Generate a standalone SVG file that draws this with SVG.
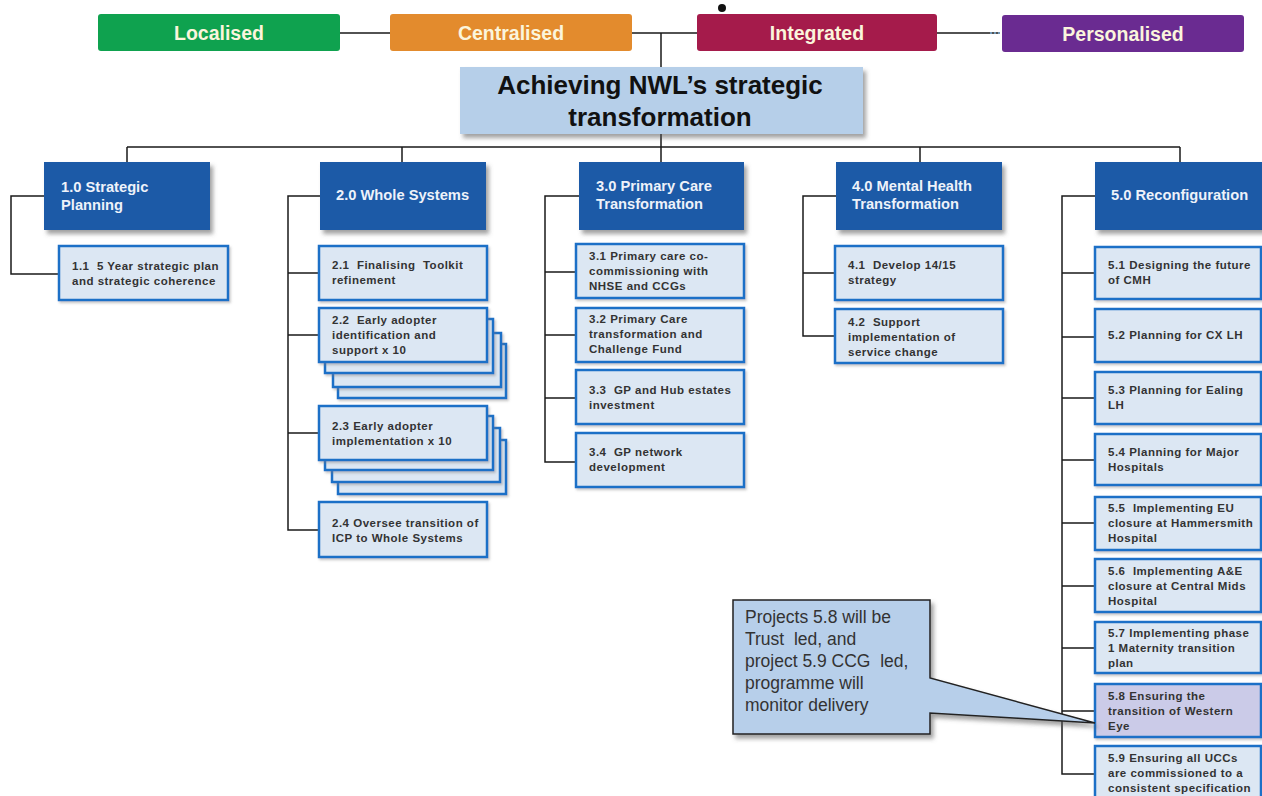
<svg xmlns="http://www.w3.org/2000/svg" width="1262" height="796" viewBox="0 0 1262 796">
  <defs>
    <filter id="shadow" x="-10%" y="-10%" width="125%" height="135%">
      <feDropShadow dx="3" dy="4" stdDeviation="2" flood-color="#555" flood-opacity="0.55"/>
    </filter>
    <filter id="soft" x="-10%" y="-10%" width="125%" height="135%">
      <feDropShadow dx="1.5" dy="2" stdDeviation="1.2" flood-color="#777" flood-opacity="0.4"/>
    </filter>
  </defs>
  <style>
    text { white-space: pre; }
    .theme { font-family: "Liberation Sans", Arial, sans-serif; font-weight: bold; font-size: 19.5px; fill: #fbf5dc; text-anchor: middle; }
    .title { font-family: "Liberation Sans", Arial, sans-serif; font-weight: bold; font-size: 26px; fill: #111; text-anchor: middle; }
    .lvl1 { fill: #1b5aa7; filter: url(#shadow); }
    .lvl1t { font-family: "Liberation Sans", Arial, sans-serif; font-weight: bold; font-size: 14.7px; fill: #eef2fa; }
    .task { fill: #dce7f3; stroke: #1d6fc7; stroke-width: 2.5; filter: url(#soft); }
    .task.alt { fill: #cbcbe8; }
    .taskt { font-family: "Liberation Sans", Arial, sans-serif; font-weight: bold; font-size: 11.5px; fill: #333; letter-spacing: 0.5px; }
    .link { stroke: #1a1a1a; stroke-width: 1.5; fill: none; }
    .callout { fill: #b7cfea; stroke: #222; stroke-width: 1.5; filter: url(#shadow); }
    .calloutt { font-family: "Liberation Sans", Arial, sans-serif; font-size: 17.5px; fill: #333; }
  </style>
  <rect width="1262" height="796" fill="#ffffff"/>

  <!-- connectors -->
  <g id="connectors">
    <!-- theme bar -->
    <path class="link" d="M340 33 H390 M632 33 H697 M937 33 H1000"/>
    <path d="M990 33 H1002" stroke="#7fb0d8" stroke-width="1.5" stroke-dasharray="2 2"/>
    <path class="link" d="M661 33 V67 M661 134 V147"/>
    <!-- level 1 bar -->
    <path class="link" d="M127 147 H1180 M127 147 V162 M402 147 V162 M661 147 V162 M920 147 V162 M1180 147 V162"/>
    <!-- 1.0 children -->
    <path class="link" d="M44 196 H11 V274 H59"/>
    <!-- 2.0 children -->
    <path class="link" d="M320 196 H288 V530 H319 M288 273 H319 M288 335 H319 M288 433 H319"/>
    <!-- 3.0 children -->
    <path class="link" d="M579 196 H545 V462 H576 M545 272 H576 M545 335 H576 M545 398 H576"/>
    <!-- 4.0 children -->
    <path class="link" d="M836 196 H803 V336 H835 M803 273 H835"/>
    <!-- 5.0 children -->
    <path class="link" d="M1095 196 H1062 V774 H1095 M1062 273 H1095 M1062 337 H1095 M1062 398 H1095 M1062 460 H1095 M1062 523 H1095 M1062 586 H1095 M1062 648 H1095 M1062 711 H1095"/>
  </g>

  <!-- themes -->
  <g id="theme-localised">
    <rect x="98" y="14" width="242" height="37" rx="3" fill="#0fa24f"/>
    <text class="theme" x="219" y="40">Localised</text>
  </g>
  <g id="theme-centralised">
    <rect x="390" y="14" width="242" height="37" rx="3" fill="#e38b2d"/>
    <text class="theme" x="511" y="40">Centralised</text>
  </g>
  <g id="theme-integrated">
    <rect x="697" y="14" width="240" height="37" rx="3" fill="#a51b4b"/>
    <text class="theme" x="817" y="40">Integrated</text>
    <circle cx="722" cy="8" r="4" fill="#111"/>
  </g>
  <g id="theme-personalised">
    <rect x="1002" y="15" width="242" height="37" rx="3" fill="#6a2b91"/>
    <text class="theme" x="1123" y="41">Personalised</text>
  </g>

  <!-- root -->
  <g id="root">
    <rect x="460" y="67" width="403" height="67" fill="#b6cfe9" filter="url(#shadow)"/>
    <text class="title" x="660" y="94">Achieving NWL’s strategic</text>
    <text class="title" x="660" y="126">transformation</text>
  </g>

  <!-- 1.0 -->
  <g id="n1-0">
    <rect class="lvl1" x="44" y="162" width="166" height="68"/>
    <text class="lvl1t" x="61" y="192">1.0 Strategic</text>
    <text class="lvl1t" x="61" y="210">Planning</text>
  </g>
  <g id="n1-1">
    <rect class="task" x="59" y="246" width="169" height="54"/>
    <text class="taskt" x="72" y="270">1.1  5 Year strategic plan</text>
    <text class="taskt" x="72" y="285">and strategic coherence</text>
  </g>

  <!-- 2.0 -->
  <g id="n2-0">
    <rect class="lvl1" x="320" y="162" width="166" height="68"/>
    <text class="lvl1t" x="336" y="200">2.0 Whole Systems</text>
  </g>
  <g id="n2-1">
    <rect class="task" x="319" y="246" width="168" height="54"/>
    <text class="taskt" x="332" y="269">2.1  Finalising  Toolkit</text>
    <text class="taskt" x="332" y="284">refinement</text>
  </g>
  <g id="n2-2">
    <rect class="task" x="338" y="344" width="168" height="54"/>
    <rect class="task" x="333" y="333" width="168" height="54"/>
    <rect class="task" x="325" y="319" width="168" height="54"/>
    <rect class="task" x="319" y="308" width="168" height="54"/>
    <text class="taskt" x="332" y="324">2.2  Early adopter</text>
    <text class="taskt" x="332" y="339">identification and</text>
    <text class="taskt" x="332" y="354">support x 10</text>
  </g>
  <g id="n2-3">
    <rect class="task" x="338" y="440" width="168" height="54"/>
    <rect class="task" x="332" y="428" width="168" height="54"/>
    <rect class="task" x="325" y="416" width="168" height="54"/>
    <rect class="task" x="319" y="406" width="168" height="54"/>
    <text class="taskt" x="332" y="430">2.3 Early adopter</text>
    <text class="taskt" x="332" y="445">implementation x 10</text>
  </g>
  <g id="n2-4">
    <rect class="task" x="319" y="502" width="168" height="55"/>
    <text class="taskt" x="332" y="527">2.4 Oversee transition of</text>
    <text class="taskt" x="332" y="542">ICP to Whole Systems</text>
  </g>

  <!-- 3.0 -->
  <g id="n3-0">
    <rect class="lvl1" x="579" y="162" width="165" height="68"/>
    <text class="lvl1t" x="596" y="191">3.0 Primary Care</text>
    <text class="lvl1t" x="596" y="209">Transformation</text>
  </g>
  <g id="n3-1">
    <rect class="task" x="576" y="244" width="168" height="54"/>
    <text class="taskt" x="589" y="260">3.1 Primary care co-</text>
    <text class="taskt" x="589" y="275">commissioning with</text>
    <text class="taskt" x="589" y="290">NHSE and CCGs</text>
  </g>
  <g id="n3-2">
    <rect class="task" x="576" y="308" width="168" height="54"/>
    <text class="taskt" x="589" y="323">3.2 Primary Care</text>
    <text class="taskt" x="589" y="338">transformation and</text>
    <text class="taskt" x="589" y="353">Challenge Fund</text>
  </g>
  <g id="n3-3">
    <rect class="task" x="576" y="370" width="168" height="54"/>
    <text class="taskt" x="589" y="394">3.3  GP and Hub estates</text>
    <text class="taskt" x="589" y="409">investment</text>
  </g>
  <g id="n3-4">
    <rect class="task" x="576" y="433" width="168" height="54"/>
    <text class="taskt" x="589" y="456">3.4  GP network</text>
    <text class="taskt" x="589" y="471">development</text>
  </g>

  <!-- 4.0 -->
  <g id="n4-0">
    <rect class="lvl1" x="836" y="162" width="166" height="68"/>
    <text class="lvl1t" x="852" y="191">4.0 Mental Health</text>
    <text class="lvl1t" x="852" y="209">Transformation</text>
  </g>
  <g id="n4-1">
    <rect class="task" x="835" y="246" width="168" height="54"/>
    <text class="taskt" x="848" y="269">4.1  Develop 14/15</text>
    <text class="taskt" x="848" y="284">strategy</text>
  </g>
  <g id="n4-2">
    <rect class="task" x="835" y="309" width="168" height="54"/>
    <text class="taskt" x="848" y="326">4.2  Support</text>
    <text class="taskt" x="848" y="341">implementation of</text>
    <text class="taskt" x="848" y="356">service change</text>
  </g>

  <!-- 5.0 -->
  <g id="n5-0">
    <rect class="lvl1" x="1095" y="162" width="170" height="68"/>
    <text class="lvl1t" x="1111" y="200">5.0 Reconfiguration</text>
  </g>
  <g id="n5-1">
    <rect class="task" x="1095" y="247" width="166" height="52"/>
    <text class="taskt" x="1108" y="269">5.1 Designing the future</text>
    <text class="taskt" x="1108" y="284">of CMH</text>
  </g>
  <g id="n5-2">
    <rect class="task" x="1095" y="309" width="166" height="53"/>
    <text class="taskt" x="1108" y="339">5.2 Planning for CX LH</text>
  </g>
  <g id="n5-3">
    <rect class="task" x="1095" y="372" width="166" height="52"/>
    <text class="taskt" x="1108" y="394">5.3 Planning for Ealing</text>
    <text class="taskt" x="1108" y="409">LH</text>
  </g>
  <g id="n5-4">
    <rect class="task" x="1095" y="434" width="166" height="51"/>
    <text class="taskt" x="1108" y="456">5.4 Planning for Major</text>
    <text class="taskt" x="1108" y="471">Hospitals</text>
  </g>
  <g id="n5-5">
    <rect class="task" x="1095" y="497" width="166" height="53"/>
    <text class="taskt" x="1108" y="512">5.5  Implementing EU</text>
    <text class="taskt" x="1108" y="527">closure at Hammersmith</text>
    <text class="taskt" x="1108" y="542">Hospital</text>
  </g>
  <g id="n5-6">
    <rect class="task" x="1095" y="559" width="166" height="53"/>
    <text class="taskt" x="1108" y="575">5.6  Implementing A&amp;E</text>
    <text class="taskt" x="1108" y="590">closure at Central Mids</text>
    <text class="taskt" x="1108" y="605">Hospital</text>
  </g>
  <g id="n5-7">
    <rect class="task" x="1095" y="622" width="166" height="51"/>
    <text class="taskt" x="1108" y="637">5.7 Implementing phase</text>
    <text class="taskt" x="1108" y="652">1 Maternity transition</text>
    <text class="taskt" x="1108" y="667">plan</text>
  </g>
  <g id="n5-8">
    <rect class="task alt" x="1095" y="684" width="166" height="53"/>
    <text class="taskt" x="1108" y="700">5.8 Ensuring the</text>
    <text class="taskt" x="1108" y="715">transition of Western</text>
    <text class="taskt" x="1108" y="730">Eye</text>
  </g>
  <g id="n5-9">
    <rect class="task" x="1095" y="746" width="166" height="56"/>
    <text class="taskt" x="1108" y="762">5.9 Ensuring all UCCs</text>
    <text class="taskt" x="1108" y="777">are commissioned to a</text>
    <text class="taskt" x="1108" y="792">consistent specification</text>
  </g>

  <!-- note -->
  <g id="note">
    <path class="callout" d="M733 600 H930 V678 L1095 723 L930 713 V734 H733 Z"/>
    <text class="calloutt" x="745" y="623">Projects 5.8 will be</text>
    <text class="calloutt" x="745" y="645">Trust  led, and</text>
    <text class="calloutt" x="745" y="667">project 5.9 CCG  led,</text>
    <text class="calloutt" x="745" y="689">programme will</text>
    <text class="calloutt" x="745" y="711">monitor delivery</text>
  </g>
</svg>
